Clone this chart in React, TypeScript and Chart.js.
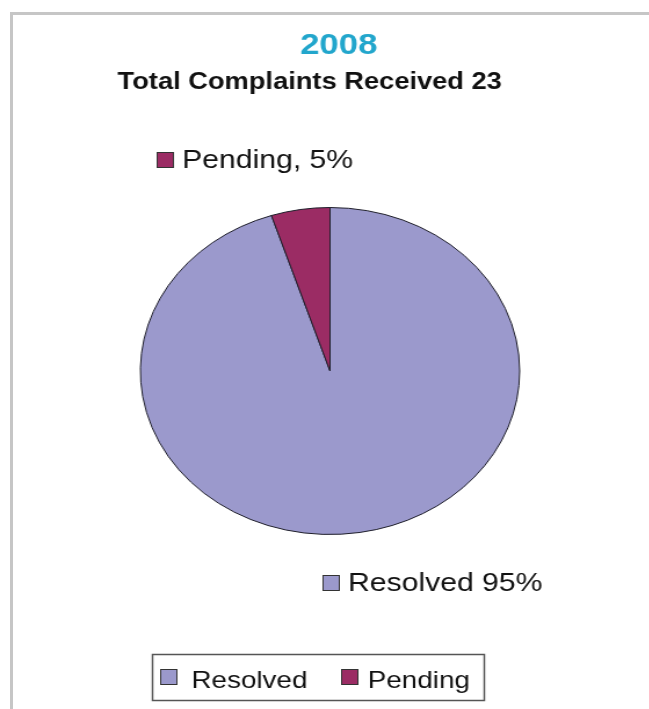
import React, { useEffect, useRef } from 'react';
import { Chart, registerables } from 'chart.js';
Chart.register(...registerables);

const titleText = '2008';
const subtitleText = 'Total Complaints Received 23';
const categories = ['Resolved', 'Pending'];
const values = [95, 5];
const sliceLabels = ['Resolved 95%', 'Pending, 5%'];
const sliceColors = ['#9b99cc', '#9b2c64'];

const SX = 1.16; // horizontal stretch of the original picture
const W = 560;
const H = 709;
const FONT = '"Liberation Sans", Arial, sans-serif';

function swatch(ctx: CanvasRenderingContext2D, x: number, y: number, w: number, h: number, color: string) {
  ctx.fillStyle = color;
  ctx.fillRect(x, y, w, h);
  ctx.strokeStyle = '#333';
  ctx.lineWidth = 1;
  ctx.strokeRect(x + 0.5, y + 0.5, w - 1, h - 1);
}

const textPlugin = {
  id: 'textPlugin',
  afterDraw(chart: any) {
    const ctx: CanvasRenderingContext2D = chart.ctx;
    ctx.save();
    ctx.textBaseline = 'alphabetic';
    // title
    ctx.textAlign = 'center';
    ctx.fillStyle = '#22a6cc';
    ctx.font = `bold 30px ${FONT}`;
    ctx.fillText(titleText, 292, 54);
    ctx.fillStyle = '#111';
    ctx.font = `bold 23.5px ${FONT}`;
    ctx.fillText(subtitleText, 267, 89);

    // slice labels
    ctx.textAlign = 'left';
    ctx.font = `26px ${FONT}`;
    // Pending
    swatch(ctx, 135, 152, 15, 16, sliceColors[1]);
    ctx.fillStyle = '#111';
    ctx.fillText(sliceLabels[1], 157, 168);
    // Resolved
    swatch(ctx, 278, 575, 15, 16, sliceColors[0]);
    ctx.fillStyle = '#111';
    ctx.fillText(sliceLabels[0], 300, 591);

    // legend box
    ctx.strokeStyle = '#555';
    ctx.lineWidth = 1.5;
    ctx.strokeRect(131.5, 654.5, 286, 46);
    ctx.font = `24px ${FONT}`;
    const sw = [138, 294];
    const tx = [165, 317];
    categories.forEach((c, i) => {
      swatch(ctx, sw[i], 669, 15, 16, sliceColors[i]);
      ctx.fillStyle = '#111';
      ctx.fillText(c, tx[i], 688);
    });
    ctx.restore();
  },
};

export default function App() {
  const ref = useRef<HTMLCanvasElement | null>(null);
  useEffect(() => {
    if (!ref.current) return;
    const chart = new Chart(ref.current, {
      type: 'pie',
      data: {
        labels: categories,
        datasets: [
          {
            data: values,
            backgroundColor: sliceColors,
            borderColor: '#1e1e2a',
            borderWidth: 1,
            hoverOffset: 0,
            offset: 0,
          },
        ],
      },
      options: {
        responsive: false,
        animation: false,
        devicePixelRatio: 1,
        layout: { padding: { left: 84.5, right: 75.5, top: 207, bottom: 174 } },
        plugins: {
          legend: { display: false },
          title: { display: false },
          tooltip: { enabled: false },
        },
      },
      plugins: [textPlugin],
    });
    return () => chart.destroy();
  }, []);
  return (
    <div style={{ position: 'fixed', left: 0, top: 0, width: 649, height: 709, overflow: 'hidden', background: '#fff' }}>
      <div style={{ position: 'absolute', left: 0, top: 0, transform: `scaleX(${SX})`, transformOrigin: '0 0' }}>
        <canvas ref={ref} width={W} height={H} style={{ display: 'block', width: W, height: H }} />
      </div>
      <div
        style={{
          position: 'absolute',
          left: 10,
          top: 12,
          width: 800,
          height: 800,
          borderTop: '3px solid #c6c6c6',
          borderLeft: '3px solid #c6c6c6',
          pointerEvents: 'none',
        }}
      />
    </div>
  );
}
